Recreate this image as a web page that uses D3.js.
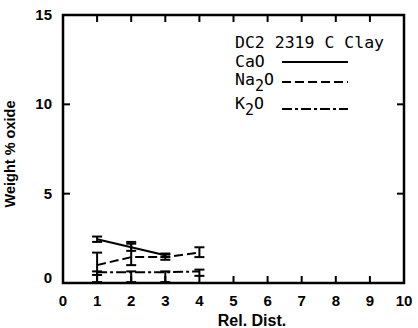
<!DOCTYPE html>
<html>
<head>
<meta charset="utf-8">
<script src="https://cdn.jsdelivr.net/npm/d3@7"></script>
<style>
body { margin: 0; background: #fff; }
text { fill: #000; }
</style>
</head>
<body>
<div id="c1"></div>
<script>
// Data
var xTicks = [0, 1, 2, 3, 4, 5, 6, 7, 8, 9, 10];
var yTicks = [0, 5, 10, 15];

var caoX = [1, 2, 3];
var caoY = [2.45, 2.0, 1.55];
var caoLo = [2.3, 1.8, 1.45];
var caoHi = [2.6, 2.2, 1.65];

var na2oX = [1, 2, 3, 4];
var na2oY = [1.0, 1.45, 1.45, 1.7];
var na2oLo = [0.45, 1.0, 1.3, 1.45];
var na2oHi = [1.7, 2.3, 1.6, 2.0];

var k2oX = [1, 2, 3, 4];
var k2oY = [0.6, 0.6, 0.6, 0.65];
var k2oLo = [0.05, 0.05, 0.05, 0.4];
var k2oHi = [0.65, 0.65, 0.65, 0.75];

var w = 418, h = 328;
var pL = 63, pR = 404, pT = 15, pB = 283;

var svg = d3.select("#c1").append("svg")
    .attr("width", w)
    .attr("height", h);

var x = d3.scaleLinear().domain([0, 10]).range([pL, pR]);
var y = d3.scaleLinear().domain([0, 15]).range([pB, pT]);

// ticks, pointing inward on all four sides
var g = svg.append("g").attr("stroke", "#000").attr("stroke-width", 2);
xTicks.slice(1, -1).forEach(function (t) {
    g.append("line").attr("x1", x(t)).attr("x2", x(t)).attr("y1", pB).attr("y2", pB - 7);
    g.append("line").attr("x1", x(t)).attr("x2", x(t)).attr("y1", pT).attr("y2", pT + 7);
});
yTicks.slice(1, -1).forEach(function (t) {
    g.append("line").attr("x1", pL).attr("x2", pL + 7).attr("y1", y(t)).attr("y2", y(t));
    g.append("line").attr("x1", pR).attr("x2", pR - 7).attr("y1", y(t)).attr("y2", y(t));
});

// frame
svg.append("rect")
    .attr("x", pL).attr("y", pT)
    .attr("width", pR - pL).attr("height", pB - pT)
    .attr("fill", "none").attr("stroke", "#000").attr("stroke-width", 2.5);

// tick labels
svg.selectAll("text.xt").data(xTicks).enter().append("text")
    .attr("x", function (d) { return x(d); })
    .attr("y", 306)
    .attr("text-anchor", "middle")
    .attr("font-family", "Liberation Sans, Arial, sans-serif")
    .attr("font-size", 15).attr("font-weight", "bold")
    .text(function (d) { return d; });

svg.selectAll("text.yt").data(yTicks).enter().append("text")
    .attr("x", 52)
    .attr("y", function (d) { return d == 0 ? y(d) : y(d) + 5; })
    .attr("text-anchor", "end")
    .attr("font-family", "Liberation Sans, Arial, sans-serif")
    .attr("font-size", 15).attr("font-weight", "bold")
    .text(function (d) { return d; });

svg.append("text")
    .attr("x", 252).attr("y", 326)
    .attr("text-anchor", "middle")
    .attr("font-family", "Liberation Sans, Arial, sans-serif")
    .attr("font-size", 16).attr("font-weight", "bold")
    .text("Rel. Dist.");

svg.append("text")
    .attr("transform", "translate(15,154) rotate(-90)")
    .attr("text-anchor", "middle")
    .attr("font-family", "Liberation Sans, Arial, sans-serif")
    .attr("font-size", 14.5).attr("font-weight", "bold")
    .text("Weight % oxide");

// series
function series(xs, ys, lo, hi, dash) {
    var pts = xs.map(function (d, i) { return [d, ys[i], lo[i], hi[i]]; });
    var line = d3.line().x(function (d) { return x(d[0]); }).y(function (d) { return y(d[1]); });
    svg.append("path").datum(pts)
        .attr("d", line)
        .attr("fill", "none").attr("stroke", "#000").attr("stroke-width", 2)
        .attr("stroke-dasharray", dash);
    var eb = svg.append("g").attr("stroke", "#000").attr("stroke-width", 2);
    pts.forEach(function (d) {
        eb.append("line").attr("x1", x(d[0])).attr("x2", x(d[0])).attr("y1", y(d[2])).attr("y2", y(d[3]));
        eb.append("line").attr("x1", x(d[0]) - 5).attr("x2", x(d[0]) + 5).attr("y1", y(d[2])).attr("y2", y(d[2]));
        eb.append("line").attr("x1", x(d[0]) - 5).attr("x2", x(d[0]) + 5).attr("y1", y(d[3])).attr("y2", y(d[3]));
    });
}
series(caoX, caoY, caoLo, caoHi, null);
series(na2oX, na2oY, na2oLo, na2oHi, "9,4");
series(k2oX, k2oY, k2oLo, k2oHi, "10,3,3,3");

// legend
var mono = "DejaVu Sans Mono, monospace";
svg.append("text").attr("x", 235).attr("y", 48)
    .attr("font-family", mono).attr("font-size", 16.5)
    .text("DC2 2319 C Clay");
var leg = [
    { name: "CaO", sub: null, y: 67, ly: 62, dash: null },
    { name: "Na", sub: "2", y: 85, ly: 82, dash: "9,4" },
    { name: "K", sub: "2", y: 109, ly: 109, dash: "10,3,3,3" }
];
leg.forEach(function (d) {
    var t = svg.append("text").attr("x", 235).attr("y", d.y)
        .attr("font-family", mono).attr("font-size", 16.5);
    t.append("tspan").text(d.name);
    if (d.sub) {
        t.append("tspan").attr("dy", 6).attr("font-size", 15).text(d.sub);
        t.append("tspan").attr("dy", -6).text("O");
    }
    svg.append("line").attr("x1", 282).attr("x2", 348).attr("y1", d.ly).attr("y2", d.ly)
        .attr("stroke", "#000").attr("stroke-width", 2)
        .attr("stroke-dasharray", d.dash);
});
</script>
</body>
</html>
